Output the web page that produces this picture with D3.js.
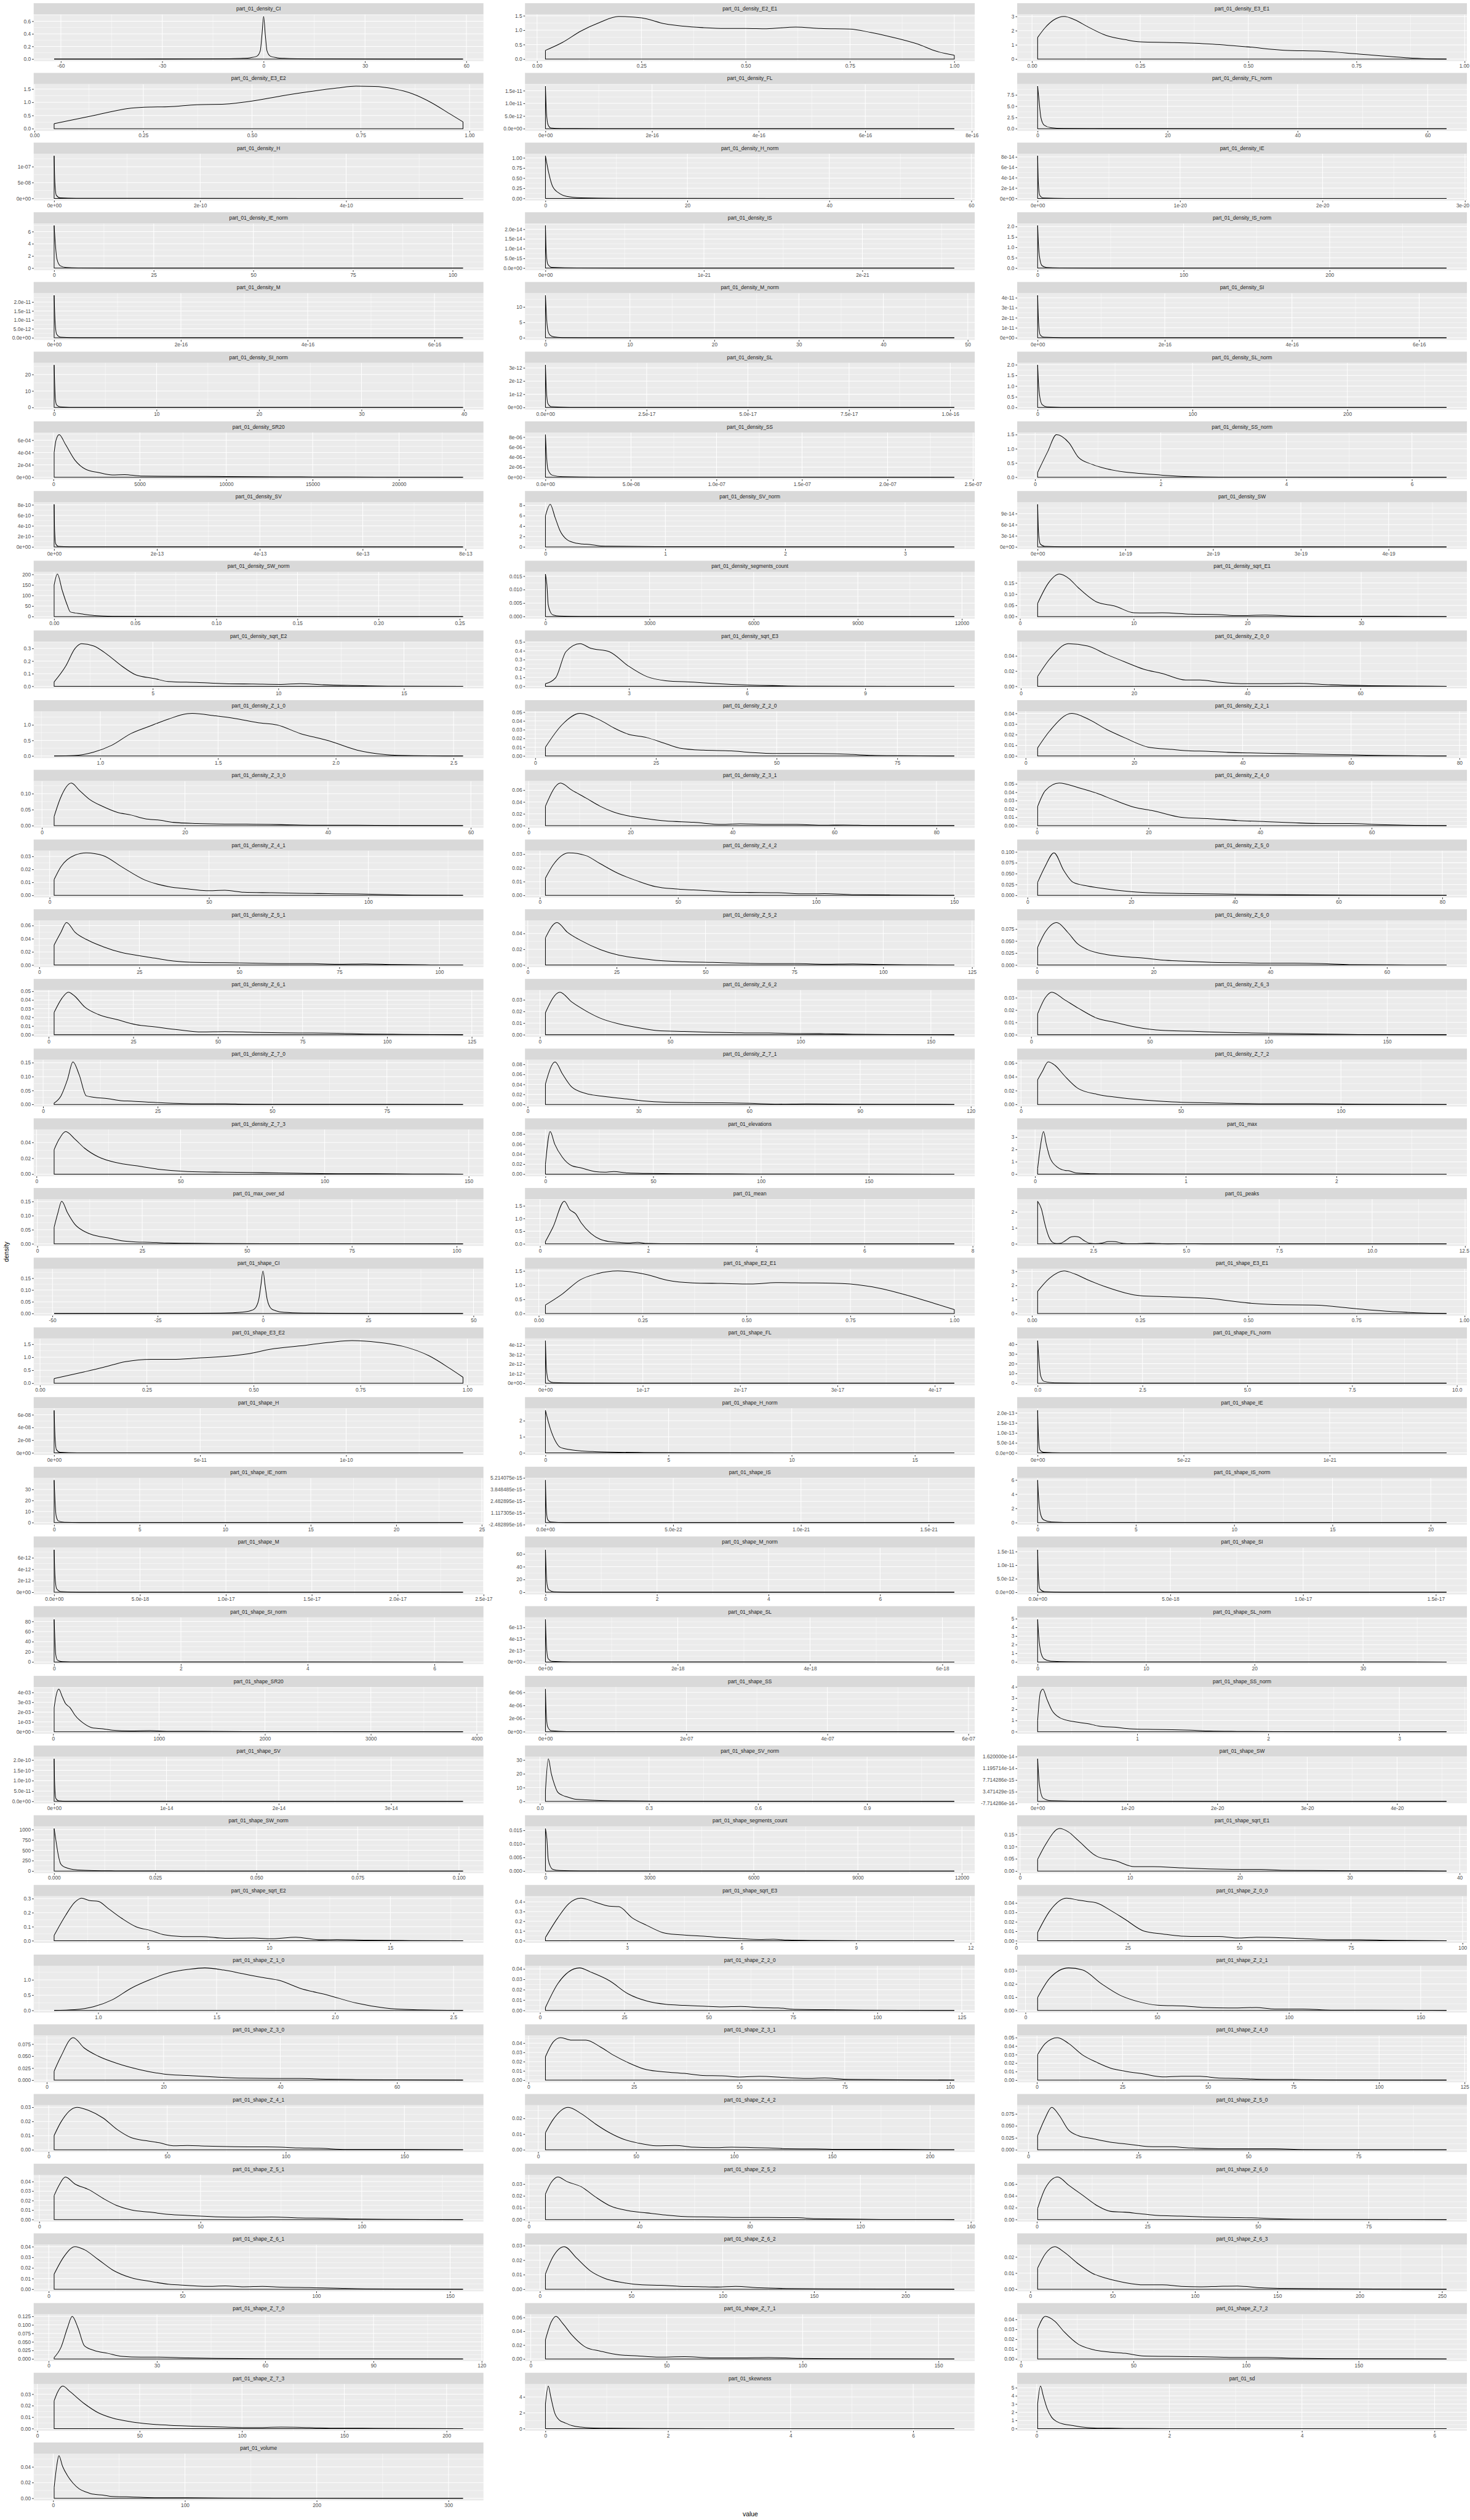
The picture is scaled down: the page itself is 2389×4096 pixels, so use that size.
<!DOCTYPE html>
<html><head><meta charset="utf-8">
<script src="https://cdn.jsdelivr.net/npm/d3@7"></script>
<style>html,body{margin:0;padding:0;background:#fff;}svg{display:block;}</style>
</head><body>
<script>
// ---------------- DATA ----------------
const panelNames = [
"part_01_density_CI","part_01_density_E2_E1","part_01_density_E3_E1",
"part_01_density_E3_E2","part_01_density_FL","part_01_density_FL_norm",
"part_01_density_H","part_01_density_H_norm","part_01_density_IE",
"part_01_density_IE_norm","part_01_density_IS","part_01_density_IS_norm",
"part_01_density_M","part_01_density_M_norm","part_01_density_SI",
"part_01_density_SI_norm","part_01_density_SL","part_01_density_SL_norm",
"part_01_density_SR20","part_01_density_SS","part_01_density_SS_norm",
"part_01_density_SV","part_01_density_SV_norm","part_01_density_SW",
"part_01_density_SW_norm","part_01_density_segments_count","part_01_density_sqrt_E1",
"part_01_density_sqrt_E2","part_01_density_sqrt_E3","part_01_density_Z_0_0",
"part_01_density_Z_1_0","part_01_density_Z_2_0","part_01_density_Z_2_1",
"part_01_density_Z_3_0","part_01_density_Z_3_1","part_01_density_Z_4_0",
"part_01_density_Z_4_1","part_01_density_Z_4_2","part_01_density_Z_5_0",
"part_01_density_Z_5_1","part_01_density_Z_5_2","part_01_density_Z_6_0",
"part_01_density_Z_6_1","part_01_density_Z_6_2","part_01_density_Z_6_3",
"part_01_density_Z_7_0","part_01_density_Z_7_1","part_01_density_Z_7_2",
"part_01_density_Z_7_3","part_01_elevations","part_01_max",
"part_01_max_over_sd","part_01_mean","part_01_peaks",
"part_01_shape_CI","part_01_shape_E2_E1","part_01_shape_E3_E1",
"part_01_shape_E3_E2","part_01_shape_FL","part_01_shape_FL_norm",
"part_01_shape_H","part_01_shape_H_norm","part_01_shape_IE",
"part_01_shape_IE_norm","part_01_shape_IS","part_01_shape_IS_norm",
"part_01_shape_M","part_01_shape_M_norm","part_01_shape_SI",
"part_01_shape_SI_norm","part_01_shape_SL","part_01_shape_SL_norm",
"part_01_shape_SR20","part_01_shape_SS","part_01_shape_SS_norm",
"part_01_shape_SV","part_01_shape_SV_norm","part_01_shape_SW",
"part_01_shape_SW_norm","part_01_shape_segments_count","part_01_shape_sqrt_E1",
"part_01_shape_sqrt_E2","part_01_shape_sqrt_E3","part_01_shape_Z_0_0",
"part_01_shape_Z_1_0","part_01_shape_Z_2_0","part_01_shape_Z_2_1",
"part_01_shape_Z_3_0","part_01_shape_Z_3_1","part_01_shape_Z_4_0",
"part_01_shape_Z_4_1","part_01_shape_Z_4_2","part_01_shape_Z_5_0",
"part_01_shape_Z_5_1","part_01_shape_Z_5_2","part_01_shape_Z_6_0",
"part_01_shape_Z_6_1","part_01_shape_Z_6_2","part_01_shape_Z_6_3",
"part_01_shape_Z_7_0","part_01_shape_Z_7_1","part_01_shape_Z_7_2",
"part_01_shape_Z_7_3","part_01_skewness","part_01_sd",
"part_01_volume"
];

const xTickLabels = [
["-60","-30","0","30","60"],["0.00","0.25","0.50","0.75","1.00"],["0.00","0.25","0.50","0.75","1.00"],
["0.00","0.25","0.50","0.75","1.00"],["0e+00","2e-16","4e-16","6e-16","8e-16"],["0","20","40","60"],
["0e+00","2e-10","4e-10"],["0","20","40","60"],["0e+00","1e-20","2e-20","3e-20"],
["0","25","50","75","100"],["0e+00","1e-21","2e-21"],["0","100","200"],
["0e+00","2e-16","4e-16","6e-16"],["0","10","20","30","40","50"],["0e+00","2e-16","4e-16","6e-16"],
["0","10","20","30","40"],["0.0e+00","2.5e-17","5.0e-17","7.5e-17","1.0e-16"],["0","100","200"],
["0","5000","10000","15000","20000"],["0.0e+00","5.0e-08","1.0e-07","1.5e-07","2.0e-07","2.5e-07"],["0","2","4","6"],
["0e+00","2e-13","4e-13","6e-13","8e-13"],["0","1","2","3"],["0e+00","1e-19","2e-19","3e-19","4e-19"],
["0.00","0.05","0.10","0.15","0.20","0.25"],["0","3000","6000","9000","12000"],["0","10","20","30"],
["5","10","15"],["3","6","9"],["0","20","40","60"],
["1.0","1.5","2.0","2.5"],["0","25","50","75"],["0","20","40","60","80"],
["0","20","40","60"],["0","20","40","60","80"],["0","20","40","60"],
["0","50","100"],["0","50","100","150"],["0","20","40","60","80"],
["0","25","50","75","100"],["0","25","50","75","100","125"],["0","20","40","60"],
["0","25","50","75","100","125"],["0","50","100","150"],["0","50","100","150"],
["0","25","50","75"],["0","30","60","90","120"],["0","50","100"],
["0","50","100","150"],["0","50","100","150"],["0","1","2"],
["0","25","50","75","100"],["0","2","4","6","8"],["2.5","5.0","7.5","10.0","12.5"],
["-50","-25","0","25","50"],["0.00","0.25","0.50","0.75","1.00"],["0.00","0.25","0.50","0.75","1.00"],
["0.00","0.25","0.50","0.75","1.00"],["0e+00","1e-17","2e-17","3e-17","4e-17"],["0.0","2.5","5.0","7.5","10.0"],
["0e+00","5e-11","1e-10"],["0","5","10","15"],["0e+00","5e-22","1e-21"],
["0","5","10","15","20","25"],["0.0e+00","5.0e-22","1.0e-21","1.5e-21"],["0","5","10","15","20"],
["0.0e+00","5.0e-18","1.0e-17","1.5e-17","2.0e-17","2.5e-17"],["0","2","4","6"],["0.0e+00","5.0e-18","1.0e-17","1.5e-17"],
["0","2","4","6"],["0e+00","2e-18","4e-18","6e-18"],["0","10","20","30"],
["0","1000","2000","3000","4000"],["0e+00","2e-07","4e-07","6e-07"],["1","2","3"],
["0e+00","1e-14","2e-14","3e-14"],["0.0","0.3","0.6","0.9"],["0e+00","1e-20","2e-20","3e-20","4e-20"],
["0.000","0.025","0.050","0.075","0.100"],["0","3000","6000","9000","12000"],["0","10","20","30","40"],
["5","10","15"],["3","6","9","12"],["0","25","50","75","100"],
["1.0","1.5","2.0","2.5"],["0","25","50","75","100","125"],["0","50","100","150"],
["0","20","40","60"],["0","25","50","75","100"],["0","25","50","75","100","125"],
["0","50","100","150"],["0","50","100","150","200"],["0","25","50","75"],
["0","50","100"],["0","40","80","120","160"],["0","25","50","75"],
["0","50","100","150"],["0","50","100","150","200"],["0","50","100","150","200","250"],
["0","30","60","90","120"],["0","50","100","150"],["0","50","100","150"],
["0","50","100","150","200"],["0","2","4","6"],["0","2","4","6"],
["0","100","200","300"]
];

const yTickLabels = [
["0.0","0.2","0.4","0.6"],["0.0","0.5","1.0","1.5"],["0","1","2","3"],
["0.0","0.5","1.0","1.5"],["0.0e+00","5.0e-12","1.0e-11","1.5e-11"],["0.0","2.5","5.0","7.5"],
["0e+00","5e-08","1e-07"],["0.00","0.25","0.50","0.75","1.00"],["0e+00","2e-14","4e-14","6e-14","8e-14"],
["0","2","4","6"],["0.0e+00","5.0e-15","1.0e-14","1.5e-14","2.0e-14"],["0.0","0.5","1.0","1.5","2.0"],
["0.0e+00","5.0e-12","1.0e-11","1.5e-11","2.0e-11"],["0","5","10"],["0e+00","1e-11","2e-11","3e-11","4e-11"],
["0","10","20"],["0e+00","1e-12","2e-12","3e-12"],["0.0","0.5","1.0","1.5","2.0"],
["0e+00","2e-04","4e-04","6e-04"],["0e+00","2e-06","4e-06","6e-06","8e-06"],["0.0","0.5","1.0","1.5"],
["0e+00","2e-10","4e-10","6e-10","8e-10"],["0","2","4","6","8"],["0e+00","3e-14","6e-14","9e-14"],
["0","50","100","150","200"],["0.000","0.005","0.010","0.015"],["0.00","0.05","0.10","0.15"],
["0.0","0.1","0.2","0.3"],["0.0","0.1","0.2","0.3","0.4","0.5"],["0.00","0.02","0.04"],
["0.0","0.5","1.0"],["0.00","0.01","0.02","0.03","0.04","0.05"],["0.00","0.01","0.02","0.03","0.04"],
["0.00","0.05","0.10"],["0.00","0.02","0.04","0.06"],["0.00","0.01","0.02","0.03","0.04","0.05"],
["0.00","0.01","0.02","0.03"],["0.00","0.01","0.02","0.03"],["0.000","0.025","0.050","0.075","0.100"],
["0.00","0.02","0.04","0.06"],["0.00","0.02","0.04"],["0.000","0.025","0.050","0.075"],
["0.00","0.01","0.02","0.03","0.04","0.05"],["0.00","0.01","0.02","0.03"],["0.00","0.01","0.02","0.03"],
["0.00","0.05","0.10","0.15"],["0.00","0.02","0.04","0.06","0.08"],["0.00","0.02","0.04","0.06"],
["0.00","0.02","0.04"],["0.00","0.02","0.04","0.06","0.08"],["0","1","2","3"],
["0.00","0.05","0.10","0.15"],["0.0","0.5","1.0","1.5"],["0","1","2"],
["0.00","0.05","0.10","0.15"],["0.0","0.5","1.0","1.5"],["0","1","2","3"],
["0.0","0.5","1.0","1.5"],["0e+00","1e-12","2e-12","3e-12","4e-12"],["0","10","20","30","40"],
["0e+00","2e-08","4e-08","6e-08"],["0","1","2"],["0.0e+00","5.0e-14","1.0e-13","1.5e-13","2.0e-13"],
["0","10","20","30"],["-2.482895e-16","1.117305e-15","2.482895e-15","3.848485e-15","5.214075e-15"],["0","2","4","6"],
["0e+00","2e-12","4e-12","6e-12"],["0","20","40","60"],["0.0e+00","5.0e-12","1.0e-11","1.5e-11"],
["0","20","40","60","80"],["0e+00","2e-13","4e-13","6e-13"],["0","1","2","3","4","5"],
["0e+00","1e-03","2e-03","3e-03","4e-03"],["0e+00","2e-06","4e-06","6e-06"],["0","1","2","3","4"],
["0.0e+00","5.0e-11","1.0e-10","1.5e-10","2.0e-10"],["0","10","20","30"],["-7.714286e-16","3.471429e-15","7.714286e-15","1.195714e-14","1.620000e-14"],
["0","250","500","750","1000"],["0.000","0.005","0.010","0.015"],["0.00","0.05","0.10","0.15"],
["0.0","0.1","0.2","0.3"],["0.0","0.1","0.2","0.3","0.4"],["0.00","0.01","0.02","0.03","0.04"],
["0.0","0.5","1.0"],["0.00","0.01","0.02","0.03","0.04"],["0.00","0.01","0.02","0.03"],
["0.000","0.025","0.050","0.075"],["0.00","0.01","0.02","0.03","0.04"],["0.00","0.01","0.02","0.03","0.04","0.05"],
["0.00","0.01","0.02","0.03"],["0.00","0.01","0.02"],["0.000","0.025","0.050","0.075"],
["0.00","0.01","0.02","0.03","0.04"],["0.00","0.01","0.02","0.03"],["0.00","0.02","0.04","0.06"],
["0.00","0.01","0.02","0.03","0.04"],["0.00","0.01","0.02","0.03"],["0.00","0.01","0.02"],
["0.000","0.025","0.050","0.075","0.100","0.125"],["0.00","0.02","0.04","0.06"],["0.00","0.01","0.02","0.03","0.04"],
["0.00","0.01","0.02","0.03"],["0","2","4"],["0","1","2","3","4","5"],
["0.00","0.02","0.04"]
];

// estimated density curves [value, density]
const densityCurves = [
[[-62,0],[-40,0.0005],[-20,0.0015],[-10,0.005],[-6,0.011],[-4,0.02],[-2,0.045],[-1,0.13],[-0.5,0.38],[0,0.676],[0.5,0.38],[1,0.13],[2,0.045],[4,0.02],[6,0.011],[10,0.004],[20,0.001],[40,0.0003],[59,0]],
[[0.02,0.30],[0.06,0.57],[0.105,0.97],[0.15,1.27],[0.195,1.476],[0.25,1.43],[0.307,1.22],[0.35,1.14],[0.397,1.09],[0.45,1.06],[0.50,1.06],[0.55,1.05],[0.62,1.11],[0.68,1.06],[0.75,1.04],[0.80,0.92],[0.845,0.78],[0.912,0.52],[0.957,0.27],[1.0,0.13]],
[[0.013,1.52],[0.03,2.2],[0.05,2.75],[0.074,3.0],[0.1,2.75],[0.128,2.29],[0.171,1.67],[0.215,1.37],[0.25,1.21],[0.323,1.16],[0.41,1.06],[0.497,0.86],[0.583,0.62],[0.67,0.55],[0.75,0.37],[0.844,0.14],[0.909,0.02],[0.958,0]],
[[0.045,0.19],[0.136,0.5],[0.222,0.78],[0.265,0.82],[0.308,0.83],[0.373,0.91],[0.437,0.93],[0.502,1.05],[0.567,1.24],[0.631,1.40],[0.696,1.54],[0.739,1.61],[0.782,1.60],[0.825,1.51],[0.869,1.32],[0.912,0.99],[0.955,0.56],[0.985,0.26]],
[[0,1.68e-11],[2e-18,6e-12],[5e-18,1.5e-12],[1e-17,3e-13],[3e-17,6e-14],[1e-16,1.5e-14],[7.67e-16,0]],
[[0,9.45],[0.2,6.5],[0.5,2.5],[1,0.8],[2,0.25],[4,0.07],[10,0.015],[62.9,0]],
[[0,1.34e-7],[1e-12,5e-8],[3e-12,1e-8],[8e-12,2e-9],[3e-11,4e-10],[5.6e-10,0]],
[[0,1.05],[0.5,0.6],[1,0.3],[2,0.12],[3,0.05],[5,0.015],[10,0.003],[57.6,0]],
[[0,8.2e-14],[5e-23,3e-14],[1.5e-22,6e-15],[4e-22,1e-15],[2e-21,1.5e-16],[2.87e-20,0]],
[[0,7],[0.3,4],[0.7,1.5],[1.5,0.4],[3,0.1],[6,0.03],[15,0.005],[102.6,0]],
[[0,2.19e-14],[5e-24,8e-15],[1.5e-23,2e-15],[4e-23,4e-16],[2e-22,6e-17],[2.58e-21,0]],
[[0,2.05],[0.5,1.2],[1.5,0.45],[3,0.12],[6,0.03],[15,0.006],[40,0.001],[280,0]],
[[0,2.38e-11],[1.5e-18,9e-12],[4e-18,2e-12],[1e-17,4e-13],[4e-17,6e-14],[6.45e-16,0]],
[[0,13.8],[0.1,8],[0.25,3],[0.5,1],[1,0.3],[2,0.08],[5,0.015],[48.4,0]],
[[0,4.25e-11],[1.5e-18,1.5e-11],[4e-18,3e-12],[1e-17,6e-13],[4e-17,1e-13],[6.43e-16,0]],
[[0,25.8],[0.05,15],[0.12,5],[0.25,1.5],[0.6,0.4],[1.5,0.08],[4,0.015],[39.9,0]],
[[0,3.22e-12],[2.5e-19,1.2e-12],[6e-19,3e-13],[1.5e-18,6e-14],[6e-18,1e-14],[1.01e-16,0]],
[[0,1.99],[0.5,1.2],[1.5,0.45],[3,0.13],[6,0.03],[15,0.006],[40,0.001],[264,0]],
[[40,4.0e-4],[150,6.0e-4],[330,6.9e-4],[700,5.3e-4],[1250,2.75e-4],[1900,1.24e-4],[2600,0.77e-4],[3400,0.37e-4],[4130,0.42e-4],[5050,0.19e-4],[7800,0.14e-4],[10000,0.12e-4],[13000,0.07e-4],[17000,0.03e-4],[23700,0]],
[[0,8.5e-6],[5e-10,5e-6],[1.5e-9,1.5e-6],[4e-9,4e-7],[1e-8,1e-7],[3e-8,2e-8],[2.39e-7,0]],
[[0.04,0.17],[0.2,0.9],[0.34,1.5],[0.54,1.21],[0.69,0.70],[0.91,0.45],[1.13,0.30],[1.43,0.18],[1.73,0.12],[2.03,0.07],[2.48,0.02],[2.93,0.005],[4,0.001],[6.55,0]],
[[0,8.1e-10],[1e-15,3e-10],[3e-15,6e-11],[8e-15,1e-11],[3e-14,1.5e-12],[7.95e-13,0]],
[[0,6.0],[0.04,8.2],[0.08,5.7],[0.12,3.2],[0.18,1.4],[0.26,0.7],[0.31,0.55],[0.37,0.47],[0.45,0.2],[0.53,0.14],[0.92,0.06],[1.6,0.04],[2.5,0.01],[3.41,0]],
[[0,1.15e-13],[1e-21,4e-14],[3e-21,8e-15],[8e-21,1.5e-15],[3e-20,2e-16],[4.66e-19,0]],
[[0,150],[0.002,202],[0.005,124],[0.008,56],[0.01,22],[0.013,17],[0.016,14],[0.019,10],[0.022,7],[0.025,5],[0.036,1.5],[0.06,0.4],[0.12,0.1],[0.252,0]],
[[0,0.0158],[40,0.012],[80,0.0044],[150,0.0015],[216,0.0006],[400,0.0002],[1000,0.00005],[11780,0]],
[[1.55,0.059],[2.5,0.15],[3.46,0.19],[4.3,0.17],[5.1,0.13],[6.75,0.065],[8.4,0.046],[10,0.017],[11,0.016],[12.5,0.017],[15,0.011],[17.4,0.009],[19.1,0.0045],[21.6,0.0064],[24,0.0026],[27.3,0.0013],[33,0.001],[37.5,0]],
[[1.07,0.035],[1.53,0.16],[1.9,0.30],[2.16,0.338],[2.65,0.32],[3.2,0.25],[3.77,0.16],[4.33,0.09],[5.07,0.061],[5.6,0.038],[6.75,0.030],[7.87,0.021],[9,0.018],[10.1,0.015],[10.86,0.021],[11.8,0.0115],[13.1,0.0058],[14.6,0.0012],[17.35,0]],
[[0.88,0.03],[1.14,0.096],[1.4,0.39],[1.76,0.48],[2.02,0.43],[2.5,0.39],[2.98,0.23],[3.45,0.11],[3.93,0.063],[4.64,0.046],[5.1,0.033],[5.6,0.021],[6.07,0.013],[6.8,0.0066],[7.7,0.0016],[11.26,0]],
[[2.95,0.013],[5.1,0.036],[8.4,0.056],[11.8,0.053],[15.1,0.042],[18.4,0.032],[21.7,0.0225],[25,0.0168],[29.1,0.0082],[31.6,0.0082],[35,0.0053],[39.9,0.0034],[44.9,0.0034],[49,0.0038],[54.8,0.0019],[61.4,0.0008],[75.2,0]],
[[0.804,0],[0.89,0.014],[0.97,0.12],[1.05,0.35],[1.13,0.72],[1.21,0.96],[1.29,1.19],[1.37,1.36],[1.39,1.37],[1.49,1.29],[1.57,1.21],[1.67,1.07],[1.75,1.0],[1.85,0.72],[1.97,0.49],[2.09,0.19],[2.21,0.047],[2.33,0.01],[2.54,0]],
[[2.1,0.01],[5.6,0.036],[9.3,0.0486],[13.4,0.041],[16.3,0.032],[19.2,0.025],[23.1,0.021],[27,0.014],[29.9,0.009],[34.8,0.0066],[40.6,0.0058],[44.5,0.0041],[50.3,0.0028],[56.1,0.0028],[62,0.0025],[65.8,0.0017],[69.7,0.0007],[75.5,0.0003],[86.8,0]],
[[2.2,0.0076],[4.5,0.024],[8.5,0.040],[11.4,0.035],[14.9,0.025],[18.3,0.017],[22.6,0.0083],[26.9,0.0062],[30.4,0.0048],[33.8,0.0044],[37.3,0.0034],[42.5,0.0028],[49.4,0.0021],[52.8,0.0017],[59.8,0.0011],[66.7,0.0004],[77.6,0]],
[[1.7,0.0285],[2.6,0.087],[4.1,0.133],[5.25,0.11],[6.6,0.083],[8.5,0.06],[10.5,0.042],[12.5,0.033],[14.4,0.0217],[16.4,0.0172],[18.4,0.0104],[21.7,0.0068],[25.6,0.005],[29.5,0.0045],[33.5,0.0032],[38.7,0.0014],[44,0.0014],[49.2,0.0005],[58.9,0]],
[[3.3,0.033],[6.25,0.072],[8.5,0.06],[11.2,0.047],[14,0.033],[16.7,0.023],[19.5,0.0167],[23.2,0.0118],[26.8,0.0081],[32.4,0.0057],[37.9,0.002],[41.5,0.0032],[47,0.002],[52.6,0.002],[58,0.0007],[61.8,0.0012],[67.3,0.0002],[83.5,0]],
[[0.13,0.023],[1.5,0.042],[4,0.051],[7.4,0.0456],[10.8,0.0387],[14.1,0.030],[17.5,0.022],[20.8,0.0179],[25.9,0.01],[30.9,0.0083],[36,0.0061],[41,0.0049],[46,0.0035],[51,0.0026],[56,0.0026],[61.2,0.0014],[66.2,0.0005],[73.4,0]],
[[1.4,0.0122],[3.5,0.022],[7.9,0.031],[11.5,0.0328],[16.8,0.0306],[22.6,0.022],[30,0.0117],[37.4,0.0067],[43.2,0.005],[49.1,0.0036],[55,0.0039],[60.9,0.0024],[69.7,0.002],[78.5,0.0016],[87.4,0.0013],[96.2,0.0011],[105,0.0006],[114,0.0002],[129.7,0]],
[[2,0.0126],[4.7,0.022],[10.5,0.031],[16.6,0.029],[21.7,0.0232],[28.5,0.0158],[35.3,0.0105],[42,0.0063],[48.8,0.0047],[55.6,0.0039],[62.4,0.0032],[69,0.0023],[76,0.0021],[86,0.0019],[96,0.0011],[103,0.0013],[113,0.0005],[127,0.0003],[150,0]],
[[1.95,0.030],[3.4,0.0667],[5.1,0.098],[7,0.057],[8.8,0.03],[11.5,0.0217],[15.1,0.015],[18.7,0.01],[23.2,0.006],[29.5,0.0043],[36.7,0.0033],[45.7,0.0017],[54.8,0.001],[63.8,0.0003],[80.8,0]],
[[3.7,0.0305],[5.4,0.050],[6.8,0.0647],[8.9,0.050],[12.4,0.037],[15.9,0.028],[20.6,0.019],[25.3,0.0139],[28.8,0.0106],[33.5,0.0062],[39.3,0.004],[46.4,0.0035],[53.4,0.0029],[60.4,0.0022],[67.4,0.0022],[74.5,0.0013],[81.5,0.0018],[88.5,0.0007],[97.8,0.0002],[105.9,0]],
[[4.96,0.0345],[8.2,0.054],[11.1,0.0418],[15,0.031],[20.3,0.0198],[25.6,0.0125],[30.9,0.0088],[36.2,0.006],[44,0.0042],[52,0.0033],[60,0.0024],[68,0.0018],[75.7,0.0018],[83.6,0.0011],[91.5,0.0015],[99.5,0.0006],[110,0.0002],[120,0]],
[[0.13,0.037],[1.4,0.068],[3.4,0.0886],[5.3,0.068],[7,0.044],[8.7,0.032],[11.9,0.022],[15.1,0.0174],[18.3,0.0144],[21.5,0.0105],[24.7,0.0084],[29.5,0.006],[34.3,0.0048],[39.2,0.0039],[44,0.0039],[48.8,0.003],[53.6,0.0009],[60,0.0003],[70.2,0]],
[[1.6,0.0257],[3.9,0.042],[5.8,0.049],[7.8,0.044],[10.5,0.0324],[14.7,0.0233],[20.2,0.0174],[25.8,0.0116],[31.3,0.0091],[38.2,0.0058],[45.2,0.0033],[52.1,0.0037],[60.4,0.0028],[68.7,0.0022],[77,0.002],[85.3,0.0017],[93.6,0.0008],[104.7,0.0005],[122.4,0]],
[[2.1,0.019],[7.6,0.0366],[12.3,0.028],[17.7,0.0204],[23.1,0.0143],[30.3,0.0093],[37.5,0.0062],[44.7,0.0037],[55.5,0.0028],[66.3,0.0021],[77.1,0.0016],[87.9,0.0015],[98.7,0.001],[109.5,0.0009],[120,0.0005],[135,0.0002],[159,0]],
[[2.7,0.017],[5.9,0.030],[8.7,0.0345],[13.8,0.0287],[19.8,0.0216],[27.7,0.0134],[35.6,0.0099],[43.5,0.0064],[55.3,0.0035],[67.2,0.0029],[79,0.002],[90.9,0.0015],[106.7,0.001],[122.5,0.0006],[138,0.0002],[175,0]],
[[2.4,0.0052],[3.9,0.031],[5.3,0.089],[6.5,0.153],[7.9,0.105],[9.4,0.031],[11,0.026],[14.1,0.021],[17.2,0.013],[19.2,0.012],[23.3,0.0079],[28.4,0.0042],[33.5,0.0026],[39.7,0.0026],[43.8,0.001],[50,0.0005],[91.6,0]],
[[4.8,0.041],[7.4,0.085],[9.4,0.061],[11.9,0.035],[15.7,0.022],[20.8,0.016],[25.9,0.0116],[31,0.0073],[37.3,0.0044],[44.9,0.0035],[52.5,0.0032],[60.2,0.0023],[67.8,0.0006],[75.4,0.0012],[85.5,0.0006],[95.7,0.0003],[115.5,0]],
[[5.2,0.0357],[6.7,0.048],[8.5,0.0616],[10.6,0.0567],[13.5,0.042],[17.9,0.023],[23.8,0.0147],[29.6,0.0105],[38.4,0.0063],[47.2,0.0038],[56,0.0025],[64.8,0.0017],[76.5,0.0011],[91,0.0011],[105.9,0.0004],[133,0]],
[[6.1,0.031],[7.8,0.044],[10.1,0.0538],[13.4,0.044],[16.6,0.033],[21.5,0.0217],[28,0.0143],[34.5,0.0106],[42.7,0.006],[52.4,0.0033],[65.5,0.0024],[78.5,0.0018],[91.5,0.0011],[104.6,0.0006],[117.6,0.0006],[130.6,0.0002],[148,0]],
[[0,0.02],[2.2,0.085],[4.3,0.06],[7.8,0.034],[12.2,0.0168],[16.5,0.0125],[23,0.0052],[27.4,0.0038],[31.7,0.0052],[38.3,0.0023],[47,0.0014],[60,0.0009],[77.4,0.0006],[94.8,0.0003],[189.6,0]],
[[0.017,0.45],[0.035,2.2],[0.056,3.45],[0.075,2.4],[0.1,1.3],[0.15,0.55],[0.2,0.3],[0.22,0.28],[0.27,0.1],[0.37,0.04],[0.46,0.02],[0.9,0.005],[2.73,0]],
[[4,0.059],[4.9,0.11],[5.8,0.151],[7.2,0.11],[8.9,0.07],[11.2,0.044],[13.4,0.031],[16.8,0.021],[20.1,0.0108],[23.5,0.0067],[26.8,0.0056],[31.3,0.0031],[35.8,0.0021],[42.5,0.001],[53.7,0.0005],[101.5,0]],
[[0.1,0.09],[0.24,0.66],[0.45,1.68],[0.55,1.35],[0.66,1.18],[0.76,0.83],[0.94,0.41],[1.11,0.18],[1.28,0.09],[1.46,0.06],[1.63,0.034],[1.8,0.06],[1.98,0.017],[2.5,0.003],[7.66,0]],
[[1,2.67],[1.1,2.2],[1.2,1.2],[1.3,0.45],[1.4,0.1],[1.5,0.02],[1.6,0.03],[1.75,0.2],[1.9,0.43],[2,0.46],[2.1,0.43],[2.25,0.2],[2.4,0.04],[2.55,0.01],[2.75,0.06],[2.9,0.14],[3,0.145],[3.1,0.13],[3.3,0.03],[3.5,0.005],[3.8,0.02],[4,0.036],[4.2,0.02],[4.5,0.002],[5,0.01],[5.5,0.001],[12,0]],
[[-49.6,0],[-20,0.0005],[-10,0.002],[-5,0.006],[-3,0.012],[-2,0.02],[-1,0.06],[-0.5,0.12],[0,0.181],[0.5,0.12],[1,0.06],[2,0.02],[3,0.012],[5,0.005],[10,0.002],[20,0.0004],[47.5,0]],
[[0.016,0.30],[0.056,0.68],[0.10,1.19],[0.14,1.40],[0.19,1.5],[0.26,1.37],[0.31,1.17],[0.37,1.08],[0.44,1.06],[0.51,1.04],[0.57,1.09],[0.64,1.08],[0.71,1.07],[0.75,1.04],[0.82,0.89],[0.89,0.63],[0.96,0.32],[1.0,0.14]],
[[0.013,1.58],[0.04,2.5],[0.074,3.03],[0.1,2.8],[0.128,2.41],[0.171,1.89],[0.214,1.48],[0.25,1.27],[0.32,1.19],[0.41,1.07],[0.5,0.75],[0.58,0.62],[0.65,0.6],[0.75,0.34],[0.84,0.13],[0.91,0.03],[0.958,0]],
[[0.033,0.18],[0.104,0.44],[0.148,0.61],[0.2,0.83],[0.26,0.92],[0.31,0.92],[0.37,0.97],[0.43,1.03],[0.49,1.14],[0.54,1.31],[0.61,1.44],[0.68,1.58],[0.73,1.64],[0.79,1.58],[0.85,1.42],[0.91,1.06],[0.96,0.56],[0.99,0.23]],
[[0,4.47e-12],[1e-19,1.5e-12],[3e-19,3e-13],[8e-19,6e-14],[3e-18,1e-14],[4.2e-17,0]],
[[0,43.7],[0.03,25],[0.07,8],[0.15,2],[0.4,0.4],[1,0.08],[9.75,0]],
[[0,6.7e-8],[3e-13,2.5e-8],[8e-13,5e-9],[2e-12,1e-9],[8e-12,1.5e-10],[1.4e-10,0]],
[[0,2.65],[0.2,1.5],[0.4,0.75],[0.6,0.35],[1,0.2],[1.5,0.12],[2,0.08],[3,0.04],[4,0.025],[6,0.01],[10,0.004],[16.6,0]],
[[0,2.13e-13],[3e-24,8e-14],[8e-24,1.5e-14],[2e-23,3e-15],[8e-23,4e-16],[1.4e-21,0]],
[[0,38.5],[0.05,20],[0.12,6],[0.25,1.5],[0.6,0.3],[1.5,0.06],[23.9,0]],
[[0,4.96579e-15],[3e-24,1.8e-15],[8e-24,4e-16],[2e-23,8e-17],[8e-23,1e-17],[1.6e-21,0]],
[[0,6.0],[0.05,3.5],[0.15,1.2],[0.3,0.4],[0.7,0.1],[2,0.02],[20.8,0]],
[[0,7.4e-12],[5e-20,2.8e-12],[1.5e-19,6e-13],[4e-19,1.2e-13],[1.5e-18,1.5e-14],[2.38e-17,0]],
[[0,66.6],[0.01,40],[0.03,12],[0.06,4],[0.15,0.8],[0.4,0.15],[7.33,0]],
[[0,1.57e-11],[3e-20,6e-12],[9e-20,1.2e-12],[2.5e-19,2.5e-13],[1e-18,3e-14],[1.54e-17,0]],
[[0,84],[0.01,50],[0.025,15],[0.05,4],[0.12,0.8],[0.4,0.15],[6.45,0]],
[[0,7.4e-13],[1.5e-20,2.8e-13],[4e-20,6e-14],[1e-19,1.2e-14],[4e-19,1.5e-15],[6.18e-18,0]],
[[0,4.92],[0.1,3],[0.3,1.1],[0.6,0.35],[1.2,0.1],[3,0.02],[37.7,0]],
[[9,2.46e-3],[30,3.8e-3],[53,4.35e-3],[85,3.6e-3],[115,2.9e-3],[159,2.46e-3],[204,1.71e-3],[292,0.82e-3],[380,0.37e-3],[469,0.30e-3],[557,0.15e-3],[735,0.075e-3],[912,0.1e-3],[1088,0.045e-3],[1400,0.045e-3],[1800,0.015e-3],[2500,0.005e-3],[3870,0]],
[[0,6.5e-6],[1e-9,3e-6],[3e-9,8e-7],[8e-9,1.5e-7],[3e-8,2e-8],[5.8e-7,0]],
[[0.24,0.98],[0.26,3.45],[0.28,3.8],[0.31,2.93],[0.35,1.89],[0.41,1.24],[0.51,0.91],[0.62,0.72],[0.73,0.46],[0.84,0.39],[0.94,0.26],[1.12,0.2],[1.26,0.17],[1.41,0.13],[1.55,0.065],[1.76,0.026],[2.05,0.005],[3.36,0]],
[[0,2.06e-10],[5e-17,8e-11],[1.5e-16,1.5e-11],[4e-16,3e-12],[1.5e-15,4e-13],[3.64e-14,0]],
[[0.015,7.6],[0.023,30.9],[0.031,20.3],[0.039,12.9],[0.049,6.6],[0.062,4.4],[0.075,3.2],[0.093,1.8],[0.127,1.06],[0.165,0.63],[0.217,0.42],[0.32,0.2],[0.6,0.1],[1.14,0]],
[[0,1.542857e-14],[2e-22,6e-15],[6e-22,1.2e-15],[1.5e-21,2.5e-16],[6e-21,3e-17],[4.55e-20,0]],
[[0,1025],[0.0005,700],[0.001,400],[0.0015,200],[0.002,130],[0.003,80],[0.004,50],[0.006,25],[0.01,10],[0.015,5],[0.02,3],[0.03,1],[0.101,0]],
[[0,0.0157],[40,0.012],[80,0.0044],[150,0.0015],[216,0.0006],[400,0.0002],[1000,0.00005],[11780,0]],
[[1.6,0.048],[2.3,0.107],[3.6,0.174],[4.4,0.16],[5.3,0.125],[7,0.06],[8.7,0.042],[10.4,0.018],[12.1,0.018],[14.7,0.013],[17.2,0.009],[19.8,0.0071],[21.9,0.0071],[24,0.003],[26.6,0.0024],[30.9,0.0012],[34.3,0.0012],[38.8,0]],
[[1.12,0.038],[1.59,0.18],[1.98,0.275],[2.25,0.303],[2.56,0.287],[2.95,0.28],[3.33,0.233],[3.91,0.16],[4.5,0.1],[5.08,0.074],[5.66,0.043],[6.43,0.03],[7.2,0.03],[8.18,0.0175],[9.34,0.0195],[10.1,0.0144],[11.1,0.025],[12.05,0.0072],[12.8,0.0093],[14,0.0041],[15.5,0.002],[18,0]],
[[0.86,0.033],[1.18,0.233],[1.47,0.38],[1.79,0.437],[2.16,0.397],[2.53,0.355],[2.78,0.35],[3.14,0.233],[3.51,0.159],[4,0.077],[4.5,0.058],[5,0.048],[5.48,0.033],[5.97,0.022],[6.46,0.013],[6.83,0.016],[7.2,0.0074],[7.94,0.003],[9.2,0.0005],[11.57,0]],
[[4.8,0.0088],[7.6,0.032],[11.3,0.045],[13.9,0.043],[16,0.0415],[18,0.040],[21.2,0.032],[24.4,0.0226],[28.6,0.0103],[32.8,0.0072],[37,0.0049],[41.2,0.0045],[45.4,0.0046],[49.6,0.0029],[53.8,0.0037],[58,0.0034],[64.3,0.0023],[70.6,0.0011],[76.9,0.0011],[83.2,0.0005],[96.4,0]],
[[0.814,0],[0.9,0.024],[0.98,0.12],[1.06,0.35],[1.14,0.73],[1.22,1.01],[1.3,1.23],[1.38,1.34],[1.45,1.39],[1.53,1.32],[1.61,1.2],[1.69,1.08],[1.77,0.97],[1.85,0.73],[1.97,0.5],[2.09,0.24],[2.21,0.08],[2.33,0.024],[2.54,0]],
[[1.6,0.0028],[5.3,0.026],[11.7,0.041],[15,0.037],[20.6,0.0286],[26.1,0.016],[31.7,0.009],[37.2,0.0059],[42.8,0.0049],[48.3,0.0042],[53.9,0.0035],[59.4,0.0039],[65,0.0028],[70.6,0.0024],[76.1,0.001],[84.4,0.0007],[95.6,0.0003],[122.8,0]],
[[4.6,0.0098],[9.3,0.0246],[16.4,0.0322],[21.7,0.0306],[28.8,0.0202],[35.9,0.0115],[43,0.0066],[50.2,0.004],[60.9,0.0033],[68,0.0022],[76.9,0.0019],[87.5,0.0022],[94.7,0.0011],[105.3,0.0011],[116,0.0003],[130,0.0003],[159.8,0]],
[[1.25,0.0187],[2.4,0.049],[4.5,0.0886],[6.4,0.067],[8.8,0.05],[12,0.035],[16,0.0217],[20.1,0.0127],[24.1,0.0096],[28.9,0.0066],[33.7,0.0042],[38.5,0.0036],[43.3,0.0036],[48.2,0.0021],[53,0.0012],[59.4,0.0006],[71.3,0]],
[[4,0.0253],[5.8,0.041],[7.6,0.046],[10.2,0.0433],[13.6,0.0433],[17,0.036],[20.2,0.0269],[23.6,0.019],[28,0.0113],[32.4,0.0089],[36.9,0.0073],[41.3,0.005],[45.8,0.0047],[50.2,0.0034],[54.7,0.0042],[61.3,0.0027],[65.8,0.0019],[70.2,0.0023],[74.7,0.0011],[83.6,0.0006],[101,0]],
[[0.2,0.03],[2.4,0.043],[6,0.050],[9.3,0.043],[13.4,0.0294],[17.5,0.0209],[21.6,0.014],[25.7,0.0106],[31.2,0.0072],[36.7,0.0038],[42.2,0.0046],[47.7,0.0046],[53.2,0.0024],[58.6,0.0021],[64.1,0.0012],[75,0.0007],[86,0.0003],[119.7,0]],
[[2.3,0.0101],[5.1,0.0194],[11.9,0.030],[17,0.0277],[22.9,0.0225],[28.9,0.0143],[34.8,0.0086],[40.7,0.0065],[46.6,0.005],[52.6,0.0029],[58.5,0.0031],[66.4,0.0026],[78.3,0.0022],[90,0.0021],[98,0.0019],[105.9,0.0013],[113.8,0.0011],[125.7,0.0003],[145.5,0.0003],[174.7,0]],
[[3.7,0.0109],[7.6,0.0193],[15.3,0.0271],[22,0.023],[29.2,0.0165],[36.4,0.0109],[43.5,0.0068],[50.7,0.0044],[60.3,0.0026],[69.9,0.0028],[79.4,0.0017],[89,0.0014],[98.6,0.0017],[108,0.0015],[117.7,0.0012],[127,0.0007],[141.6,0.0006],[156,0.0003],[180,0.0003],[212.4,0]],
[[2.1,0.0297],[3.8,0.066],[5.3,0.0888],[7,0.072],[9.1,0.0418],[11.3,0.0297],[14.5,0.0236],[18.7,0.016],[23,0.0115],[27.2,0.007],[32.6,0.0064],[36.8,0.0039],[43.2,0.0024],[49.6,0.0024],[56,0.0024],[62.3,0.0006],[70.9,0.0001],[95,0]],
[[4.6,0.0253],[6.1,0.036],[8.1,0.0449],[11,0.0376],[15.4,0.0315],[19.8,0.0223],[24.1,0.0147],[28.5,0.0101],[34.3,0.0078],[40.1,0.0055],[46,0.0043],[54.7,0.0029],[63.4,0.0024],[72.1,0.0027],[80.8,0.0017],[89.5,0.0014],[98.3,0.0005],[110,0.0002],[131.4,0]],
[[6,0.0216],[8.1,0.0314],[10.5,0.036],[13.9,0.032],[19,0.0277],[24.1,0.0191],[29.2,0.0118],[36,0.0075],[42.7,0.0056],[49.5,0.0038],[56.3,0.0026],[66.4,0.0022],[76.6,0.0017],[86.8,0.0017],[97,0.0016],[103.7,0.0007],[114,0.0005],[127.5,0.0001],[154,0]],
[[0.17,0.0187],[1.9,0.053],[4.7,0.072],[7.2,0.058],[10.4,0.0408],[13.6,0.0236],[16.7,0.0138],[19.9,0.0125],[23.1,0.0101],[27.3,0.0069],[32.6,0.0059],[37.9,0.0044],[43.2,0.0034],[48.5,0.0029],[53.8,0.0015],[62.3,0.0005],[92.6,0]],
[[2,0.0142],[5.6,0.0304],[9.8,0.04],[13.3,0.0372],[18.6,0.0277],[23.8,0.0182],[30.8,0.0108],[37.8,0.0074],[44.8,0.0047],[51.8,0.0036],[58.9,0.0027],[65.9,0.0031],[72.9,0.0023],[79.9,0.0027],[86.9,0.002],[97.4,0.0015],[107.9,0.0009],[118.4,0.0004],[154.8,0]],
[[3,0.0105],[7.2,0.0225],[13.3,0.0293],[20,0.0215],[27.7,0.0125],[35.4,0.0075],[45.6,0.0045],[55.9,0.003],[66.2,0.0027],[76.4,0.002],[86.7,0.0018],[96.9,0.0015],[107,0.002],[120,0.001],[135,0.0005],[156,0.0003],[226.7,0]],
[[4.4,0.0131],[9.1,0.022],[14.8,0.0264],[20.5,0.023],[29,0.0158],[37.6,0.0099],[46.1,0.0068],[57.5,0.0041],[68.9,0.0027],[80.3,0.0027],[91.6,0.0018],[103,0.0015],[114.4,0.0018],[125.8,0.002],[140,0.0009],[154,0.0005],[171,0.0003],[252.7,0]],
[[1.5,0.004],[3.4,0.034],[5.2,0.0916],[6.5,0.125],[8.1,0.0916],[9.9,0.0385],[12.5,0.0252],[16.4,0.0164],[20.3,0.0075],[25.5,0.0053],[30.6,0.0053],[38.4,0.0031],[46.2,0.0018],[56.6,0.0009],[69.6,0.0004],[114.8,0]],
[[5.4,0.0277],[7.6,0.054],[9.3,0.0616],[11.7,0.0517],[15.2,0.0343],[20.3,0.0168],[25.5,0.0114],[32.4,0.0059],[39.3,0.0044],[46.2,0.0026],[56.6,0.0033],[66.9,0.0015],[77.2,0.0015],[87.6,0.002],[97.9,0.0009],[111.7,0.0004],[155.8,0]],
[[7.4,0.0304],[10.8,0.0431],[15,0.0382],[19.2,0.0274],[25.4,0.015],[31.7,0.0096],[37.9,0.0073],[46.2,0.0057],[54.6,0.0029],[65,0.0026],[75.4,0.0023],[87.9,0.0019],[96.3,0.0015],[108.8,0.0015],[121,0.0008],[138,0.0003],[189,0]],
[[8.2,0.0243],[10,0.0322],[12.4,0.0371],[16,0.0322],[23,0.0217],[29.8,0.0138],[36.7,0.0092],[45.9,0.0059],[55,0.004],[64.2,0.003],[78,0.002],[91.7,0.0013],[105.5,0.0009],[119,0.0013],[133,0.0009],[146.8,0.0004],[165,0.0003],[208,0]],
[[0,3.14],[0.046,5.37],[0.09,3.9],[0.15,2.0],[0.23,1.05],[0.31,0.76],[0.43,0.38],[0.58,0.19],[0.74,0.1],[1.04,0.057],[1.8,0.02],[3,0.005],[6.67,0]],
[[0.014,3.04],[0.057,5.2],[0.1,3.97],[0.156,2.49],[0.226,1.38],[0.31,0.83],[0.41,0.55],[0.55,0.37],[0.69,0.18],[0.83,0.09],[1.04,0.055],[1.33,0.02],[2,0.005],[6.18,0]],
[[0.7,0.0138],[2.8,0.0427],[4.3,0.0542],[7.1,0.0408],[10.7,0.0292],[14.9,0.0196],[19.9,0.0119],[24.9,0.0081],[30.6,0.0052],[37.7,0.0042],[44.8,0.0023],[55.5,0.0019],[66,0.0013],[80,0.0008],[102,0.0008],[130,0.0004],[173,0.0002],[311,0]]
];

// ---------------- LAYOUT (reference pixels; viewBox scales to window) ----------------
const REF_W = 3360, REF_H = 5760;
const colLeft = [77, 1200, 2325];
const panelW = 1028, stripH = 25.5, panelH = 107, rowPitch = 159.3, top0 = 7.3;
const FONT = "'Liberation Sans', Arial, Helvetica, sans-serif";
const axisFs = 11.73, lw = 1.42;

const svg = d3.select("body").append("svg")
  .attr("width", 2389).attr("height", 4096)
  .attr("viewBox", `0 0 ${REF_W} ${REF_H}`)
  .attr("preserveAspectRatio", "none");
svg.append("rect").attr("width", REF_W).attr("height", REF_H).attr("fill", "#ffffff");

function minorBreaks(vals, dom) {
  const v = vals.slice().sort((a, b) => a - b);
  const out = [];
  if (v.length < 2) return out;
  for (let i = 0; i < v.length - 1; i++) out.push((v[i] + v[i + 1]) / 2);
  const s0 = v[1] - v[0], s1 = v[v.length - 1] - v[v.length - 2];
  const lo = Math.min(dom[0], dom[1]), hi = Math.max(dom[0], dom[1]);
  const a = v[0] - s0 / 2, b = v[v.length - 1] + s1 / 2;
  if (a >= lo) out.push(a);
  if (b <= hi) out.push(b);
  return out;
}

panelNames.forEach((name, i) => {
  const r = Math.floor(i / 3), c = i % 3;
  const x0 = colLeft[c];
  const yS = top0 + r * rowPitch;
  const yP = yS + stripH;
  const pts = densityCurves[i];
  const xmin = pts[0][0], xmax = pts[pts.length - 1][0];
  const ymax = d3.max(pts, d => d[1]);
  const xr = xmax - xmin;
  const x = d3.scaleLinear().domain([xmin - 0.05 * xr, xmax + 0.05 * xr]).range([x0, x0 + panelW]);
  const y = d3.scaleLinear().domain([-0.05 * ymax, 1.05 * ymax]).range([yP + panelH, yP]);
  const xt = xTickLabels[i].map(s => +s);
  const yt = yTickLabels[i].map(s => +s);

  const g = svg.append("g");
  g.append("rect").attr("x", x0).attr("y", yP).attr("width", panelW).attr("height", panelH).attr("fill", "#EBEBEB");
  minorBreaks(xt, x.domain()).forEach(v => {
    g.append("line").attr("x1", x(v)).attr("x2", x(v)).attr("y1", yP).attr("y2", yP + panelH)
      .attr("stroke", "#fff").attr("stroke-width", lw / 2);
  });
  minorBreaks(yt, y.domain()).forEach(v => {
    g.append("line").attr("x1", x0).attr("x2", x0 + panelW).attr("y1", y(v)).attr("y2", y(v))
      .attr("stroke", "#fff").attr("stroke-width", lw / 2);
  });
  xt.forEach(v => {
    g.append("line").attr("x1", x(v)).attr("x2", x(v)).attr("y1", yP).attr("y2", yP + panelH)
      .attr("stroke", "#fff").attr("stroke-width", lw);
  });
  yt.forEach(v => {
    g.append("line").attr("x1", x0).attr("x2", x0 + panelW).attr("y1", y(v)).attr("y2", y(v))
      .attr("stroke", "#fff").attr("stroke-width", lw);
  });
  const line = d3.line().x(d => x(d[0])).y(d => y(d[1])).curve(d3.curveMonotoneX);
  const edge = d3.line().x(d => x(d[0])).y(d => y(d[1]));
  g.append("path").attr("d", edge([[xmax, pts[pts.length - 1][1]], [xmax, 0], [xmin, 0], [xmin, pts[0][1]]]))
    .attr("fill", "none").attr("stroke", "#000").attr("stroke-width", lw);
  g.append("path").attr("d", line(pts)).attr("fill", "none").attr("stroke", "#000")
    .attr("stroke-width", lw).attr("stroke-linejoin", "round");
  g.append("rect").attr("x", x0).attr("y", yS).attr("width", panelW).attr("height", stripH).attr("fill", "#D9D9D9");
  g.append("text").attr("x", x0 + panelW / 2).attr("y", yS + stripH / 2).attr("dy", "0.35em")
    .attr("text-anchor", "middle").attr("font-family", FONT).attr("font-size", axisFs)
    .attr("fill", "#1A1A1A").text(name);
  const labX = xTickLabels[i], labY = yTickLabels[i];
  const ax = g.append("g").attr("transform", `translate(0,${yP + panelH})`)
    .call(d3.axisBottom(x).tickValues(xt).tickFormat((d, j) => labX[j]).tickSize(3.67).tickPadding(2.93));
  const ay = g.append("g").attr("transform", `translate(${x0},0)`)
    .call(d3.axisLeft(y).tickValues(yt).tickFormat((d, j) => labY[j]).tickSize(3.67).tickPadding(2.93));
  [ax, ay].forEach(a => {
    a.select(".domain").remove();
    a.selectAll(".tick line").attr("stroke", "#333333").attr("stroke-width", lw);
    a.selectAll(".tick text").attr("fill", "#4D4D4D").attr("font-size", axisFs).attr("font-family", FONT);
  });
  // keep x tick labels inside the picture's right edge
  ax.selectAll(".tick").each(function (d) {
    const t = d3.select(this).select("text");
    const w = t.node().getComputedTextLength();
    const over = x(d) + w / 2 - (REF_W - 2);
    if (over > 0) t.attr("x", -over);
  });
});

svg.append("text").attr("x", (colLeft[0] + colLeft[2] + panelW) / 2).attr("y", 5751)
  .attr("text-anchor", "middle").attr("font-family", FONT).attr("font-size", 14.67).attr("fill", "#000").text("value");
svg.append("text").attr("transform", `translate(19,${(top0 + 35 * rowPitch + stripH + panelH + top0) / 2}) rotate(-90)`)
  .attr("text-anchor", "middle").attr("font-family", FONT).attr("font-size", 14.67).attr("fill", "#000").text("density");
</script>
</body></html>
